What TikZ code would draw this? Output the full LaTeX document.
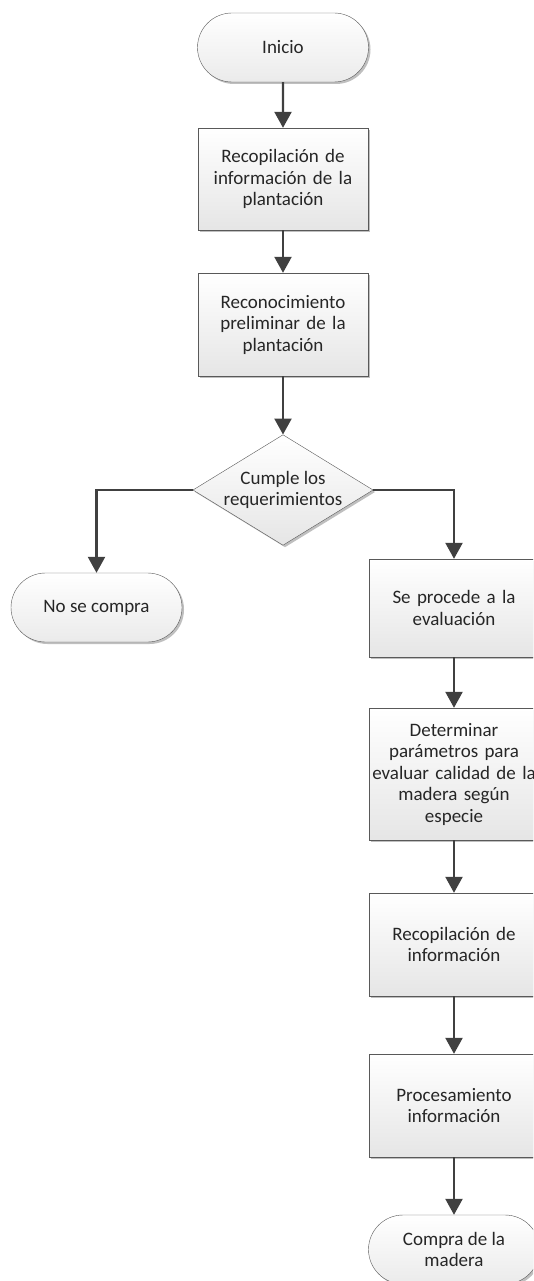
\documentclass[tikz,border=0pt]{standalone}
\usepackage{fontspec}
\setmainfont{Carlito}
\usetikzlibrary{shapes.geometric}
\usetikzlibrary{shapes.misc}
\usetikzlibrary{arrows.meta}
\usetikzlibrary{shadows}

\begin{document}
\begin{tikzpicture}[x=1pt,y=-1pt]
    \useasboundingbox (0,0) rectangle (533,1281);
    \clip (0,0) rectangle (533,1281);
    \begin{scope}[font=\fontsize{19}{21.5}\selectfont,text=black!85,
        caja/.style={rectangle,draw=black!65,top color=white,bottom color=black!10,
            drop shadow={shadow xshift=2pt,shadow yshift=-2pt,fill=black!25,opacity=1},
            minimum width=170pt,text width=168pt,align=center,inner sep=0pt},
        terminal/.style={rounded rectangle,draw=black!65,top color=white,bottom color=black!8,
            drop shadow={shadow xshift=2pt,shadow yshift=-2pt,fill=black!25,opacity=1},
            minimum width=171pt,minimum height=69pt,align=center,inner sep=0pt},
        decision/.style={diamond,draw=black!65,top color=white,bottom color=black!10,
            drop shadow={shadow xshift=2pt,shadow yshift=-2pt,fill=black!25,opacity=1},
            minimum width=170pt,minimum height=104pt,shape aspect=1.63,align=center,inner sep=0pt},
        flecha/.style={draw=black!75,line width=2.4pt,-{Triangle[length=16pt,width=17pt]}}]

    % Columna central:
    \node [terminal] (inicio) at (283,47.5) {Inicio};
    \node [caja,minimum height=102pt] (recop) at (283,179) {Recopilación de\\información de la\\plantación};
    \node [caja,minimum height=103pt] (recon) at (283,324.5) {Reconocimiento\\preliminar de la\\plantación};
    \node [decision] (cumple) at (283,490) {Cumple los\\requerimientos};

    % Rama izquierda:
    \node [terminal] (nocompra) at (96.5,607.5) {No se compra};

    % Rama derecha:
    \node [caja,minimum height=98pt] (evalua) at (454,608) {Se procede a la\\evaluación};
    \node [caja,minimum height=132pt] (param) at (454,774) {Determinar\\parámetros para\\evaluar calidad de la\\madera según\\especie};
    \node [caja,minimum height=103pt] (recinfo) at (454,944.5) {Recopilación de\\información};
    \node [caja,minimum height=103pt] (proc) at (454,1105.5) {Procesamiento\\información};
    \node [terminal] (compra) at (454,1249.5) {Compra de la\\madera};

    % Flechas:
    \draw [flecha] (inicio) -- (recop);
    \draw [flecha] (recop) -- (recon);
    \draw [flecha] (recon) -- (cumple);
    \draw [flecha] (cumple.west) -| (nocompra.north);
    \draw [flecha] (cumple.east) -| (evalua.north);
    \draw [flecha] (evalua) -- (param);
    \draw [flecha] (param) -- (recinfo);
    \draw [flecha] (recinfo) -- (proc);
    \draw [flecha] (proc) -- (compra);

    \end{scope}
\end{tikzpicture}
\end{document}
